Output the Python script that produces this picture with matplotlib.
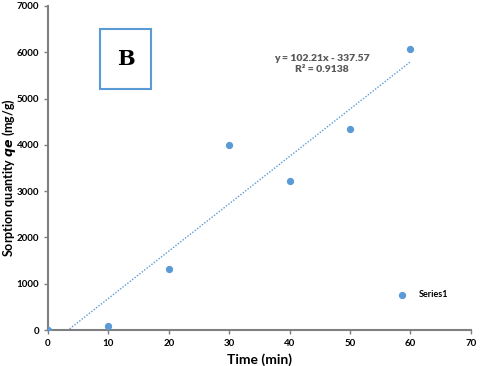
import numpy as np
import matplotlib.pyplot as plt
from matplotlib.patches import Rectangle

time_min = [0, 10, 20, 30, 40, 50, 60]
qe = [0, 95, 1320, 4000, 3230, 4340, 6060]
slope, intercept = 102.21, -337.57
eq_text = "y = 102.21x - 337.57\nR² = 0.9138"

plt.rcParams['font.family'] = ['Lato', 'DejaVu Sans']
blue = '#5b9bd5'
grey = '#595959'

fig = plt.figure(figsize=(4.8, 3.66), dpi=100)
ax = fig.add_axes([0.1, 0.098, 0.881, 0.886])

ax.scatter(time_min, qe, s=18, color=blue, zorder=3, label='Series1')
xt = np.linspace(0, 60, 200)
ax.plot(xt, slope * xt + intercept, color=blue, lw=1, ls=(0, (1, 1.2)))

ax.set_xlim(0, 70)
ax.set_ylim(0, 7000)
ax.set_xticks(range(0, 71, 10))
ax.set_yticks(range(0, 7001, 1000))
for s in ['top', 'right']:
    ax.spines[s].set_visible(False)
for s in ['left', 'bottom']:
    ax.spines[s].set_color('#7f7f7f')
    ax.spines[s].set_linewidth(1.5)
ax.tick_params(colors='#7f7f7f', labelcolor='black', labelsize=7, length=3, width=1)
for lab in ax.get_xticklabels() + ax.get_yticklabels():
    lab.set_fontweight('bold')

ax.set_xlabel('Time (min)', fontsize=10, fontweight='bold', labelpad=4)
ax.set_ylabel(r'Sorption quantity $\mathbfit{qe}$ (mg/g)', fontsize=9, fontweight='bold')
ax.yaxis.set_label_coords(-0.07, 0.47)

ax.text(0.648, 0.82, eq_text, transform=ax.transAxes, ha='center', va='center',
        fontsize=7.5, fontweight='heavy', color=grey, linespacing=1.3)

ax.add_patch(Rectangle((0.123, 0.744), 0.121, 0.185, transform=ax.transAxes,
                       fill=False, edgecolor=blue, lw=1.5))
ax.text(0.1835, 0.836, 'B', transform=ax.transAxes, ha='center', va='center',
        fontsize=15, fontweight='bold', family='DejaVu Serif')

ax.legend(loc='lower right', bbox_to_anchor=(0.965, 0.07), frameon=False,
          prop={'size': 6.5, 'weight': 'bold'}, handletextpad=0.8, markerscale=1)

fig.savefig('out.png', dpi=100, facecolor='white')
